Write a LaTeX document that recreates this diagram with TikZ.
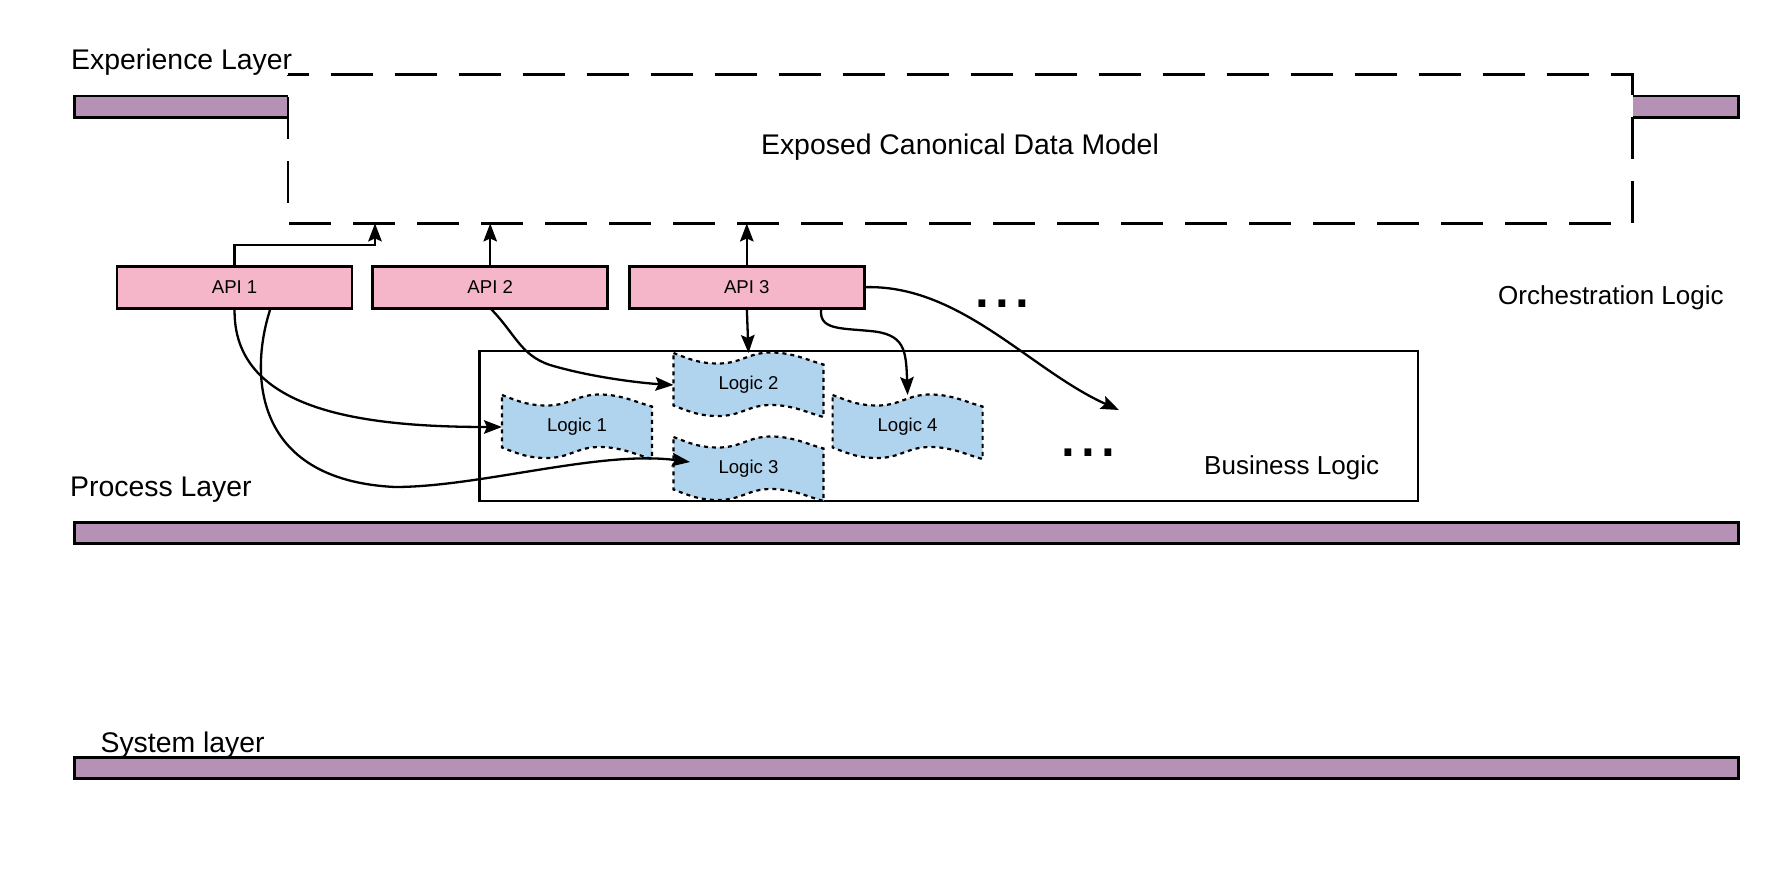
\documentclass[tikz,border=0pt]{standalone}
\usepackage{fontspec}
\setmainfont{Liberation Sans}
\usetikzlibrary{arrows.meta,calc}
\definecolor{barpurple}{RGB}{181,145,181}
\definecolor{apipink}{RGB}{244,182,200}
\definecolor{logicblue}{RGB}{177,212,238}
\tikzset{
  layerbar/.style={draw=black, line width=2.7pt, fill=barpurple, minimum width=1664pt, minimum height=21.3pt, inner sep=0pt, outer sep=0pt},
  apibox/.style={draw=black, line width=2.7pt, fill=apipink, minimum width=235pt, minimum height=42pt, inner sep=0pt, outer sep=0pt, font=\fontsize{18.6}{20}\selectfont},
  logictext/.style={minimum width=150pt, minimum height=64pt, inner sep=0pt, outer sep=0pt, font=\fontsize{18.6}{20}\selectfont},
  biglabel/.style={anchor=base west, inner sep=0pt, font=\fontsize{28.4}{30}\selectfont},
  midlabel/.style={anchor=base west, inner sep=0pt, font=\fontsize{26}{28}\selectfont},
  dotstext/.style={anchor=base west, inner sep=0pt, font=\fontsize{71}{71}\selectfont},
  dmline/.style={draw=black, line width=2.1pt, dash pattern=on 42pt off 22pt, dash phase=21pt},
  arr/.style={draw=black, line width=2.3pt, -{Stealth[length=18pt,width=13.5pt,inset=3pt]}},
  pics/wave/.style={code={
    \path[draw=black, line width=2.2pt, dash pattern=on 4pt off 4pt, fill=logicblue]
      (-75,-32) .. controls (-57,-25) and (-48,-21.5) .. (-30,-21.5)
      .. controls (-7.5,-21.5) and (0,-32.5) .. (22.5,-32.5)
      .. controls (45,-32.5) and (60,-24.3) .. (75,-20.5)
      -- (75,32)
      .. controls (60,28.2) and (45,20) .. (22.5,20)
      .. controls (0,20) and (-7.5,31) .. (-30,31)
      .. controls (-48,31) and (-57,27.5) .. (-75,20.5)
      -- cycle;
  }}
}
\begin{document}
\begin{tikzpicture}[x=1pt,y=-1pt]
\useasboundingbox (0,0) rectangle (1769,869);
% layer bars
\node[layerbar] (EB) at (906.5,106.7) {};
\node[layerbar] (PB) at (906.5,533.1) {};
\node[layerbar] (SB) at (906.5,767.8) {};
% exposed canonical data model box
\node[fill=white, minimum width=1344.8pt, minimum height=148.9pt, inner sep=0pt, outer sep=0pt] (DM) at (960.1,149) {};
\draw[dmline] (DM.north west) -- (DM.north east) -- (DM.south east) -- (DM.south west) -- cycle;
% labels
\node[biglabel] (EL) at (71,69.5) {Experience Layer};
\node[biglabel, anchor=base] (DMT) at (960,155) {Exposed Canonical Data Model};
\node[midlabel] (OL) at (1498,304) {Orchestration Logic};
\node[biglabel] (PL) at (70,496) {Process Layer};
\node[biglabel] (SL) at (100.4,752) {System layer};
\node[dotstext] (D1) at (972.6,307.3) {...};
% API boxes
\node[apibox] (A1) at (234.6,287.2) {API 1};
\node[apibox] (A2) at (490.2,287.2) {API 2};
\node[apibox] (A3) at (746.8,287.2) {API 3};
% business logic box
\node[draw=black, line width=2.7pt, minimum width=938.5pt, minimum height=150pt, inner sep=0pt, outer sep=0pt] (BL) at (948.75,426) {};
\node[midlabel] (BLT) at (1204,474) {Business Logic};
\node[dotstext] (D2) at (1058.6,456.7) {...};
% logic shapes
\pic at (577,427) {wave};
\pic at (748.5,385) {wave};
\pic at (748.5,469) {wave};
\pic at (907.6,427) {wave};
\node[logictext] (L1) at (577,427) {Logic 1};
\node[logictext] (L2) at (748.5,385) {Logic 2};
\node[logictext] (L3) at (748.5,469) {Logic 3};
\node[logictext] (L4) at (907.6,427) {Logic 4};
% connectors
\coordinate (t1) at (375,223.4);
\coordinate (t3) at (690,462);
\coordinate (t5) at (1119,410);
\draw[arr] (A1.north) |- ($(t1)+(0,21.6)$) -- (t1);
\draw[arr] (A2.north) -- (A2.north |- DM.south);
\draw[arr] (A3.north) -- (A3.north |- DM.south);
\draw[arr] (A3.south) -- (L2.north);
\draw[arr] ($(A3.south east)+(-43,0)$) .. controls (818,330) and (840,328) .. (870,331) .. controls (905,334) and (906,350) .. (L4.north);
\draw[arr] (A3.east) .. controls (960,284) and (1030,370) .. (t5);
\draw[arr] (A2.south) .. controls (515,333) and (520,355) .. (550,365) .. controls (590,377) and (640,383) .. (L2.west);
\draw[arr] (A1.south) .. controls (232,410) and (360,427) .. (L1.west);
\draw[arr] ($(A1.south)+(36,0)$) .. controls (250,370) and (250,480) .. (395,487) .. controls (480,487) and (600,450) .. (t3);
\end{tikzpicture}
\end{document}
